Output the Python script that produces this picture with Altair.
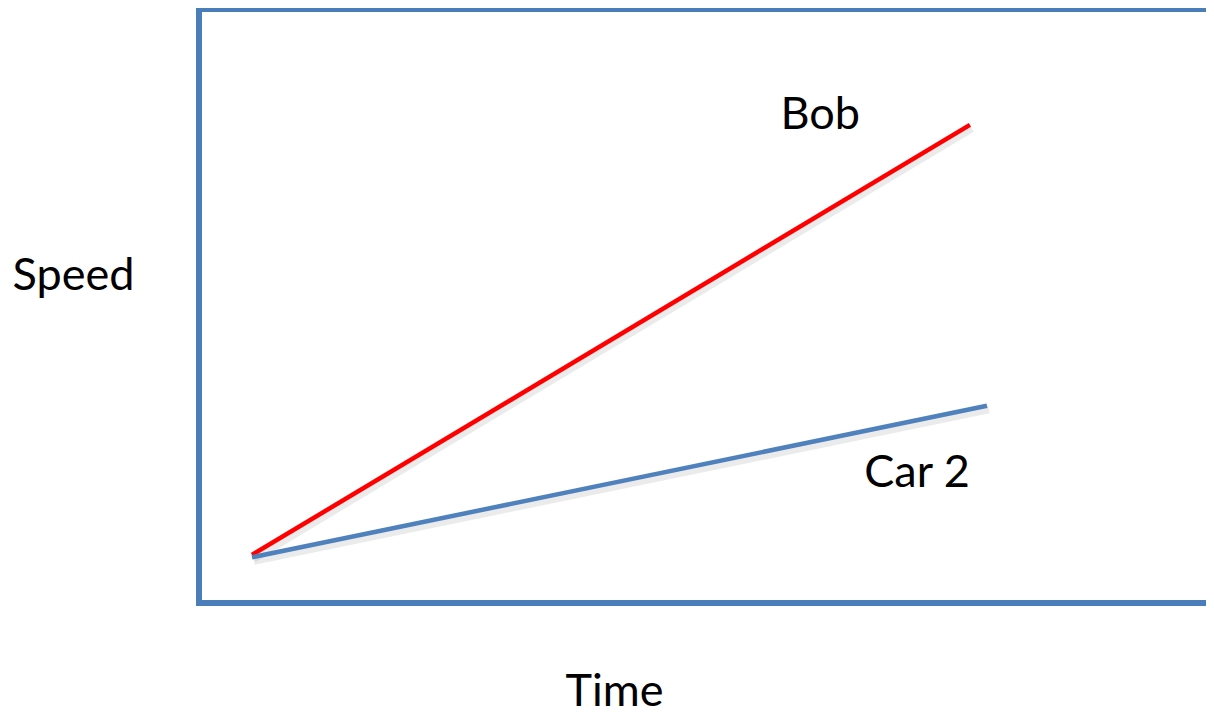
import altair as alt
import pandas as pd

# Data (abstract units: 0-100 on both axes)
series = ["Bob", "Bob", "Car 2", "Car 2"]
time = [5.26, 76.56, 5.26, 78.25]
speed = [8.1, 80.5, 7.7, 33.2]

label_text = ["Bob", "Car 2"]
label_time = [61.7, 71.3]
label_speed = [82.2, 21.9]

series_names = ["Bob", "Car 2"]
series_colors = ["#ff0000", "#4f81bd"]

W, H = 1007, 594
FONT = "Lato"
FS = 45

lines_df = pd.DataFrame({"series": series, "time": time, "speed": speed})
labels_df = pd.DataFrame({"label": label_text, "time": label_time, "speed": label_speed})
frame_df = pd.DataFrame({"k": [0]})

xscale = alt.Scale(domain=[0, 100], nice=False, zero=False)
yscale = alt.Scale(domain=[0, 100], nice=False, zero=False)
cscale = alt.Scale(domain=series_names, range=series_colors)

x_axis = alt.Axis(domain=False, ticks=False, labels=False, grid=False, title="Time",
                  titleX=415, titleY=88, titleAlign="center",
                  titleBaseline="middle", titleFont=FONT, titleFontSize=FS,
                  titleFontWeight="normal", titleColor="#000000")
y_axis = alt.Axis(domain=False, ticks=False, labels=False, grid=False, title="Speed",
                  titleAngle=0, titleX=-126, titleY=266, titleAlign="center",
                  titleBaseline="middle", titleFont=FONT, titleFontSize=FS,
                  titleFontWeight="normal", titleColor="#000000")

shadow = alt.Chart(lines_df).mark_line(
    color="#999999", opacity=0.2, strokeWidth=7, xOffset=2, yOffset=4
).encode(
    x=alt.X("time:Q", scale=xscale, axis=x_axis),
    y=alt.Y("speed:Q", scale=yscale, axis=y_axis),
    detail="series:N",
)

lines = alt.Chart(lines_df).mark_line(strokeWidth=4.5).encode(
    x=alt.X("time:Q", scale=xscale),
    y=alt.Y("speed:Q", scale=yscale),
    color=alt.Color("series:N", scale=cscale, legend=None),
)

labels = alt.Chart(labels_df).mark_text(
    font=FONT, fontSize=FS, color="#000000", align="center", baseline="middle"
).encode(
    x=alt.X("time:Q", scale=xscale),
    y=alt.Y("speed:Q", scale=yscale),
    text="label:N",
)

frame_color = "#4a7ebb"
top = alt.Chart(frame_df).mark_rule(color=frame_color, strokeWidth=6, strokeCap="square").encode(
    x=alt.value(0), x2=alt.value(W + 10), y=alt.value(0))
bottom = alt.Chart(frame_df).mark_rule(color=frame_color, strokeWidth=6, strokeCap="square").encode(
    x=alt.value(0), x2=alt.value(W + 10), y=alt.value(H))
left = alt.Chart(frame_df).mark_rule(color=frame_color, strokeWidth=6, strokeCap="square").encode(
    x=alt.value(0), y=alt.value(0), y2=alt.value(H))

chart = alt.layer(shadow, lines, labels, top, bottom, left).properties(
    width=W, height=H,
    autosize=alt.AutoSizeParams(type="none"),
    padding={"left": 191, "top": 1, "right": 0, "bottom": 106},
).configure_view(stroke=None)

chart.save("out.html", embed_options={"renderer": "svg", "actions": False})
